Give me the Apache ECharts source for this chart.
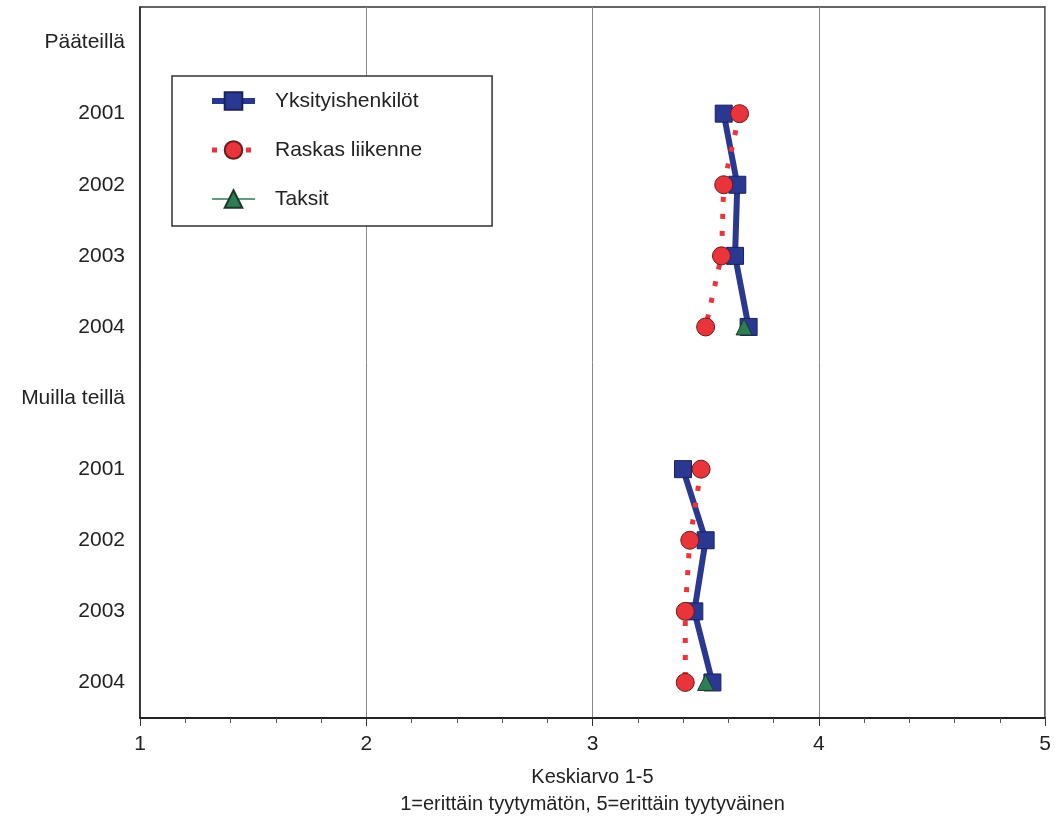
<!DOCTYPE html>
<html>
<head>
<meta charset="utf-8">
<script src="https://cdn.jsdelivr.net/npm/echarts@6/dist/echarts.min.js"></script>
<style>
html,body{margin:0;padding:0;background:#fff;}
#chart{width:1057px;height:826px;}
</style>
</head>
<body>
<div id="chart"></div>
<script>
var categories = ['Pääteillä','2001','2002','2003','2004','Muilla teillä','2001','2002','2003','2004'];
var yksityishenkilot = [null,3.58,3.64,3.63,3.69,null,3.40,3.50,3.45,3.53];
var raskasLiikenne = [null,3.65,3.58,3.57,3.50,null,3.48,3.43,3.41,3.41];
var taksit = [null,null,null,null,3.67,null,null,null,null,3.50];
var xTicks = [1,2,3,4,5];
var axisName = 'Keskiarvo 1-5\n1=erittäin tyytymätön, 5=erittäin tyytyväinen';

var FONT = '"Liberation Sans", Arial, sans-serif';
var chart = echarts.init(document.getElementById('chart'), null, {renderer:'canvas'});
chart.setOption({
  animation:false,
  backgroundColor:'#fff',
  grid:{left:140,right:12,top:7,bottom:108,show:true,borderColor:'#333',borderWidth:1.5,containLabel:false},
  legend:{
    orient:'vertical', left:172, top:76,
    padding:[14,70,16,37],
    itemWidth:43, itemHeight:22, itemGap:27,
    borderColor:'#333', borderWidth:1.5, backgroundColor:'#fff',
    lineStyle:{width:'inherit'},
    textStyle:{fontFamily:FONT,fontSize:21,color:'#222',padding:[0,0,0,15],lineHeight:22},
    data:['Yksityishenkilöt','Raskas liikenne','Taksit']
  },
  xAxis:{
    type:'value', min:1, max:5, interval:1,
    axisLine:{show:true,onZero:false,lineStyle:{color:'#222',width:2}},
    axisTick:{show:true,length:8,lineStyle:{color:'#333',width:1}},
    minorTick:{show:true,splitNumber:5,length:5,lineStyle:{color:'#555',width:1}},
    splitLine:{show:true,lineStyle:{color:'#888',width:1}},
    axisLabel:{fontFamily:FONT,fontSize:21,color:'#222',margin:16,
      formatter:function(v){return xTicks.indexOf(v)>=0?String(v):'';}},
    name:axisName, nameLocation:'middle', nameGap:46,
    nameTextStyle:{fontFamily:FONT,fontSize:20,color:'#222',lineHeight:27}
  },
  yAxis:{
    type:'category', inverse:true, data:categories, boundaryGap:true,
    axisLine:{show:true,lineStyle:{color:'#222',width:1.5}},
    axisTick:{show:false},
    splitLine:{show:false},
    axisLabel:{fontFamily:FONT,fontSize:21,color:'#222',margin:15,align:'right',interval:0}
  },
  series:[
    {
      name:'Yksityishenkilöt', type:'line', data:yksityishenkilot, connectNulls:false,
      symbol:'rect', symbolSize:17,
      lineStyle:{color:'#2a3892',width:6},
      itemStyle:{color:'#2a3892',borderColor:'#1a2160',borderWidth:1},
      z:2
    },
    {
      name:'Raskas liikenne', type:'line', data:raskasLiikenne, connectNulls:false,
      symbol:'circle', symbolSize:18,
      lineStyle:{color:'#e8343a',width:5,type:[5,12],cap:'butt'},
      itemStyle:{color:'#e8343a',borderColor:'#6a1a1a',borderWidth:1},
      z:3
    },
    {
      name:'Taksit', type:'line', data:taksit, connectNulls:false,
      symbol:'triangle', symbolSize:16,
      lineStyle:{color:'#2f7d55',width:1.5},
      itemStyle:{color:'#2f7d55',borderColor:'#1c3a2a',borderWidth:1},
      z:4
    }
  ]
});
</script>
</body>
</html>
